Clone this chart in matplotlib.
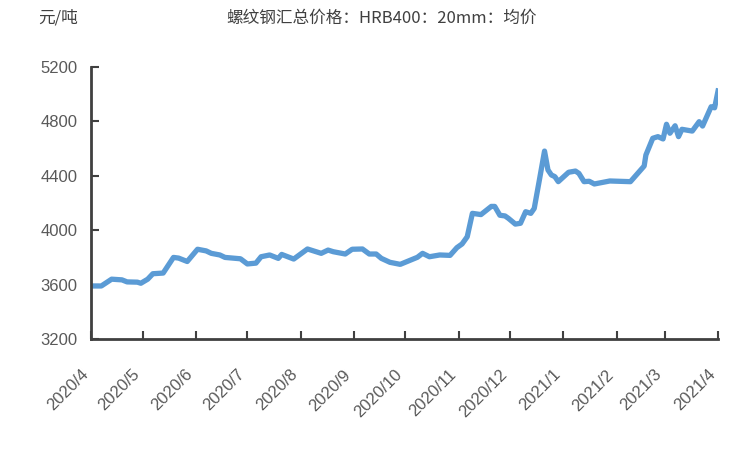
import pandas as pd
import matplotlib.pyplot as plt
import matplotlib.dates as mdates

plt.rcParams['font.family'] = ['Liberation Sans', 'Noto Sans CJK SC', 'DejaVu Sans']

# === data ===
dates = [
    "2020-04-01", "2020-04-07", "2020-04-13", "2020-04-19", "2020-04-22", "2020-04-28",
    "2020-04-30", "2020-05-04", "2020-05-07", "2020-05-13", "2020-05-19", "2020-05-22",
    "2020-05-27", "2020-06-02", "2020-06-07", "2020-06-10", "2020-06-15", "2020-06-18",
    "2020-06-27", "2020-07-01", "2020-07-06", "2020-07-09", "2020-07-14", "2020-07-19",
    "2020-07-21", "2020-07-28", "2020-08-05", "2020-08-13", "2020-08-17", "2020-08-20",
    "2020-08-27", "2020-08-31", "2020-09-06", "2020-09-10", "2020-09-14", "2020-09-17",
    "2020-09-22", "2020-09-28", "2020-10-08", "2020-10-11", "2020-10-15", "2020-10-21",
    "2020-10-27", "2020-10-31", "2020-11-03", "2020-11-06", "2020-11-09", "2020-11-14",
    "2020-11-20", "2020-11-22", "2020-11-25", "2020-11-28", "2020-11-30", "2020-12-04",
    "2020-12-07", "2020-12-10", "2020-12-13", "2020-12-15", "2020-12-18", "2020-12-21",
    "2020-12-23", "2020-12-25", "2020-12-27", "2020-12-29", "2021-01-04", "2021-01-08",
    "2021-01-10", "2021-01-13", "2021-01-16", "2021-01-19", "2021-01-28", "2021-02-09",
    "2021-02-17", "2021-02-18", "2021-02-22", "2021-02-25", "2021-02-28", "2021-03-02",
    "2021-03-04", "2021-03-07", "2021-03-09", "2021-03-11", "2021-03-17", "2021-03-21",
    "2021-03-23", "2021-03-28", "2021-03-30", "2021-04-01",
]
prices = [
    3590, 3590, 3640, 3635, 3620, 3618,
    3610, 3640, 3680, 3685, 3800, 3795,
    3770, 3860, 3848, 3830, 3818, 3800,
    3790, 3752, 3758, 3805, 3818, 3793,
    3822, 3788, 3862, 3830, 3854, 3842,
    3825, 3860, 3862, 3825, 3825, 3793,
    3764, 3749, 3801, 3830, 3805, 3818,
    3815, 3872, 3899, 3952, 4124, 4115,
    4175, 4175, 4110, 4105, 4087, 4045,
    4051, 4136, 4124, 4160, 4369, 4582,
    4443, 4406, 4394, 4357, 4426, 4435,
    4418, 4357, 4360, 4340, 4362, 4357,
    4472, 4553, 4676, 4688, 4671, 4779,
    4713, 4768, 4688, 4742, 4729, 4798,
    4766, 4908, 4900, 5024,
]
yticks = [3200, 3600, 4000, 4400, 4800, 5200]
title = "螺纹钢汇总价格：HRB400：20mm：均价"
unit = "元/吨"

x = pd.to_datetime(dates)

fig = plt.figure(figsize=(7.43, 4.51), dpi=100)
ax = fig.add_axes([0.1225, 0.2483, 0.8439, 0.6031])
ax.plot(x, prices, color="#5B9BD5", linewidth=3.8, solid_joinstyle="round")

ax.set_xlim(pd.Timestamp("2020-04-01"), pd.Timestamp("2021-04-01"))
ax.set_ylim(3200, 5200)
ax.set_yticks(yticks)
ax.xaxis.set_major_locator(mdates.MonthLocator())
ax.xaxis.set_major_formatter(
    plt.FuncFormatter(lambda v, p: "{}/{}".format(mdates.num2date(v).year, mdates.num2date(v).month)))

for s in ["top", "right"]:
    ax.spines[s].set_visible(False)
for s in ["left", "bottom"]:
    ax.spines[s].set_color("#404040")
    ax.spines[s].set_linewidth(2)

ax.tick_params(axis="both", direction="in", length=6, width=1.5, color="#404040",
               labelcolor="#595959", labelsize=12)
ax.tick_params(axis="y", pad=10)
ax.tick_params(axis="x", pad=20)
for lab in ax.get_xticklabels():
    lab.set_rotation(45)
    lab.set_ha("right")

fig.text(0.513, 0.96, title, ha="center", va="center", fontsize=12,
         color="#404040", family=["Noto Sans CJK SC", "DejaVu Sans"])
fig.text(0.051, 0.96, unit, ha="left", va="center", fontsize=12,
         color="#404040", family=["Noto Sans CJK SC", "DejaVu Sans"])

fig.savefig("out.png", dpi=100)
